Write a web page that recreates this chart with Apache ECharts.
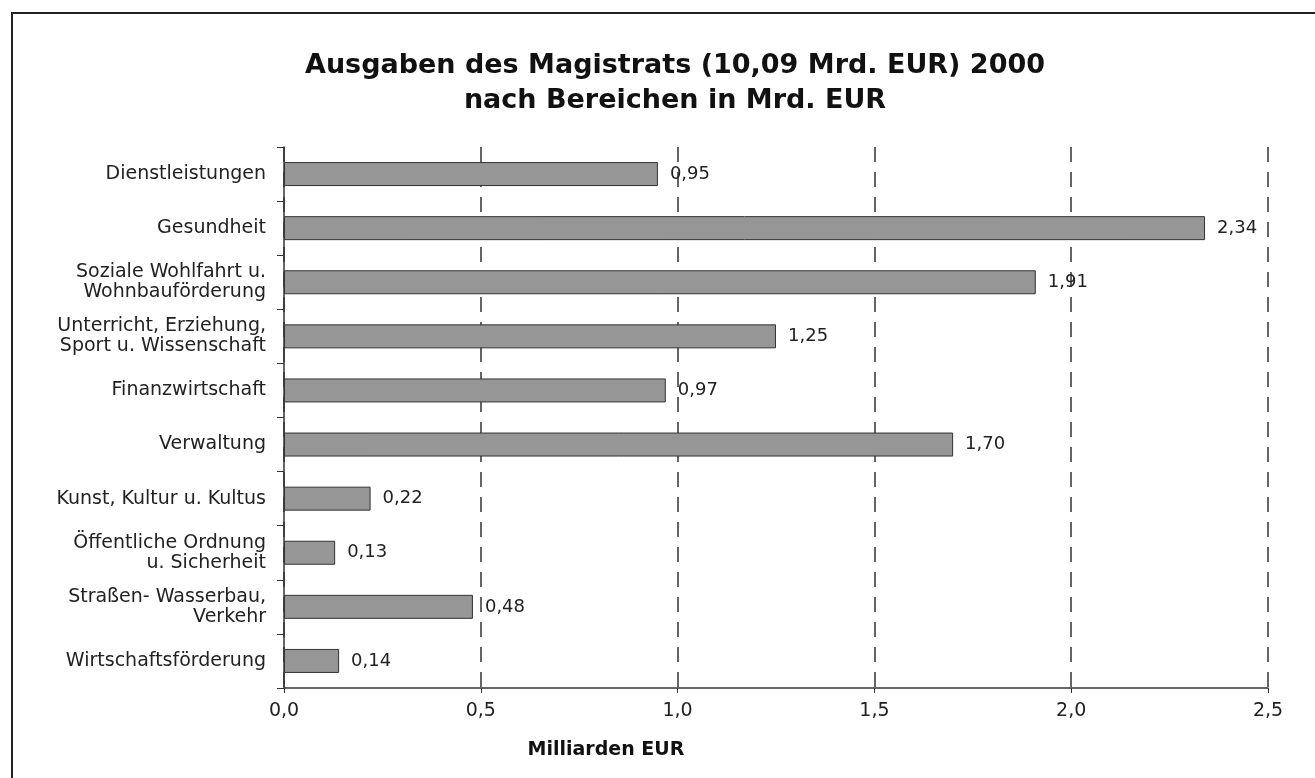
<!DOCTYPE html>
<html><head><meta charset="utf-8">
<script src="https://cdn.jsdelivr.net/npm/echarts@6/dist/echarts.min.js"></script>
<style>html,body{margin:0;padding:0;background:#fff}#c{width:1315px;height:778px}</style>
</head><body><div id="c"></div>
<script>
const categories = [
  "Dienstleistungen",
  "Gesundheit",
  "Soziale Wohlfahrt u.\nWohnbauförderung",
  "Unterricht, Erziehung,\nSport u. Wissenschaft",
  "Finanzwirtschaft",
  "Verwaltung",
  "Kunst, Kultur u. Kultus",
  "Öffentliche Ordnung\nu. Sicherheit",
  "Straßen- Wasserbau,\nVerkehr",
  "Wirtschaftsförderung"
];
const values = [0.95, 2.34, 1.91, 1.25, 0.97, 1.70, 0.22, 0.13, 0.48, 0.14];
const titleLines = ["Ausgaben des Magistrats (10,09 Mrd. EUR) 2000", "nach Bereichen in Mrd. EUR"];
const axisName = "Milliarden EUR";

const FONT = '"DejaVu Sans", "Liberation Sans", Arial, sans-serif';
const fmt = v => v.toFixed(2).replace('.', ',');
const chart = echarts.init(document.getElementById('c'), null, {renderer: 'canvas'});
chart.setOption({
  backgroundColor: '#fff',
  animation: false,
  textStyle: {fontFamily: FONT},
  title: {
    text: titleLines.join('\n'),
    left: 670, top: 43, textAlign: 'center',
    textStyle: {fontSize: 27, fontWeight: 'bold', color: '#111', lineHeight: 35, fontFamily: FONT}
  },
  graphic: [
    {type: 'rect', shape: {x: 12, y: 13, width: 1320, height: 800}, style: {fill: 'none', stroke: '#222', lineWidth: 2}, silent: true},
    {type: 'text', x: 606, y: 750, style: {text: axisName, font: 'bold 19px "DejaVu Sans", Arial, sans-serif', fill: '#111', align: 'center', verticalAlign: 'middle'}}
  ],
  grid: {left: 284, right: 47, top: 147, bottom: 90, containLabel: false},
  xAxis: {
    type: 'value', min: 0, max: 2.5, interval: 0.5,
    axisLine: {show: true, lineStyle: {color: '#333', width: 1.5}},
    axisTick: {show: true, length: 5, lineStyle: {color: '#333'}},
    axisLabel: {formatter: v => v.toFixed(1).replace('.', ','), fontSize: 19, color: '#222', margin: 14},
    splitLine: {show: true, lineStyle: {type: [15, 10], color: '#333', width: 1.5}}
  },
  yAxis: {
    type: 'category', data: categories, inverse: true,
    axisLine: {show: true, lineStyle: {color: '#333', width: 1.5}},
    axisTick: {show: true, length: 7, lineStyle: {color: '#333'}},
    axisLabel: {fontSize: 19, color: '#222', margin: 18, lineHeight: 20, align: 'right'}
  },
  series: [{
    type: 'bar', data: values, barWidth: 24,
    itemStyle: {color: '#969696', borderColor: '#333', borderWidth: 1},
    label: {show: true, position: 'right', distance: 12, formatter: p => fmt(p.value), fontSize: 18, color: '#222'}
  }]
});
</script></body></html>
